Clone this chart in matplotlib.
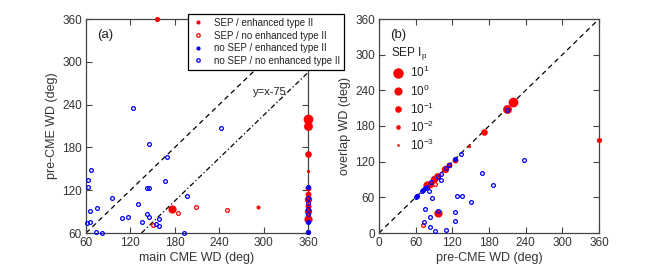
import numpy as np
import matplotlib
matplotlib.use("Agg")
import matplotlib.pyplot as plt
from matplotlib.lines import Line2D

plt.rcParams['font.family'] = ['Liberation Sans', 'DejaVu Sans']
plt.rcParams['mathtext.fontset'] = 'custom'
plt.rcParams['mathtext.rm'] = 'Liberation Sans'
plt.rcParams['mathtext.it'] = 'Liberation Sans:italic'

# ---------------- Panel (a): main CME WD vs pre-CME WD ----------------
a_sep_enh_main = [156, 176, 293, 360, 360, 360, 360, 360, 360, 360, 360, 360, 360, 360]
a_sep_enh_pre  = [360, 94, 97, 220, 210, 171, 147, 123, 114, 108, 98, 91, 80, 61]
a_sep_enh_ip   = [0.02, 1.0, 0.005, 5, 2, 0.1, 0.002, 0.045, 0.045, 0.3, 0.05, 0.3, 1.0, 0.02]

a_sep_noenh_main = [184, 208, 251, 150]
a_sep_noenh_pre  = [88, 97, 92, 71]

a_nosep_enh_main = [360, 360, 360]
a_nosep_enh_pre  = [124.5, 76, 62]

a_nosep_noenh_main = [123, 242, 145, 169, 67, 63, 167, 63, 143, 145, 197, 95.5, 130, 75,
                      66, 143, 145, 109, 117, 158.5, 135, 66, 62, 73.5, 81, 158.5, 154, 193,
                      360, 360, 360, 360]
a_nosep_noenh_pre  = [235, 207, 185, 167, 149, 134, 133, 125, 123, 123, 112, 109, 101, 95,
                      91, 86, 82, 81, 82, 79.6, 76, 76, 74, 61, 60, 70, 72, 60,
                      109, 102, 94, 86]

# ---------------- Panel (b): pre-CME WD vs overlap WD ----------------
b_sep_enh_pre = [360, 96, 61.5, 79, 84, 90, 95, 98, 108, 114, 124, 147, 171, 209, 220]
b_sep_enh_ovl = [156, 33, 61.5, 80, 83, 91, 96, 98, 108, 114, 123, 147, 170, 208.6, 220]
b_sep_enh_ip  = [0.02, 1.0, 0.02, 1.0, 0.3, 0.3, 0.1, 0.005, 0.3, 0.045, 0.045, 0.002, 0.1, 2, 5]

b_sep_noenh_pre = [92, 72]
b_sep_noenh_ovl = [83, 13]

b_nosep_enh_pre = [124.5, 76, 62, 72]
b_nosep_enh_ovl = [124.5, 76, 62, 72]

b_nosep_noenh_pre = [237, 169, 186, 151, 127, 135, 124, 124, 110, 91, 83, 83, 76, 73.5, 97,
                     86, 101, 82, 209, 134, 101, 96, 78, 71, 85, 109, 114, 60.5]
b_nosep_noenh_ovl = [123, 101.5, 81, 51.6, 62, 62, 35, 21, 4.5, 3, 9.5, 27, 40, 19, 37.6,
                     59, 89, 71, 207, 133, 100, 95, 78, 71, 86, 109, 114, 60.5]

legend_ip = [10, 1, 0.1, 0.01, 0.001]
legend_ip_labels = ['$10^{1}$', '$10^{0}$', '$10^{-1}$', '$10^{-2}$', '$10^{-3}$']

RED = '#ff0000'
BLUE = '#0000ff'
GRAY = '#444444'
PX2PT = 72.0 / 100.0


def ip_to_ms(ip):
    d = np.interp(np.log10(np.asarray(ip, dtype=float)), [-3, -2, -1, 0, 1], [2.6, 4.6, 6.6, 8.2, 10.4])
    return d * PX2PT


fig = plt.figure(figsize=(6.64, 2.66), dpi=100)
ax1 = fig.add_axes([86 / 664, 1 - 233 / 266, 222 / 664, 214 / 266])
ax2 = fig.add_axes([379 / 664, 1 - 233 / 266, 220 / 664, 214 / 266])

SMALL = 2.7
MEW = 0.9


def draw(ax, xr, yr, ipr, xro, yro, xbf, ybf, xbo, ybo):
    for x, y, ms in zip(xr, yr, ip_to_ms(ipr)):
        ax.plot([x], [y], 'o', color=RED, ms=ms, mew=0, clip_on=False, zorder=3)
    ax.plot(xro, yro, 'o', mfc='none', mec=RED, ms=SMALL, mew=MEW, ls='none', clip_on=False, zorder=4)
    ax.plot(xbf, ybf, 'o', color=BLUE, ms=SMALL + 1.0, mew=0, ls='none', clip_on=False, zorder=4)
    ax.plot(xbo, ybo, 'o', mfc='none', mec=BLUE, ms=SMALL, mew=MEW, ls='none', clip_on=False, zorder=5)


def style(ax, lo):
    ax.set_xlim(lo, 360)
    ax.set_ylim(lo, 360)
    ticks = np.arange(lo, 361, 60)
    ax.set_xticks(ticks)
    ax.set_yticks(ticks)
    ax.tick_params(direction='in', top=True, right=True, length=4, width=0.8,
                   colors=GRAY, labelsize=8.5, labelcolor='#333333', pad=3)
    for s in ax.spines.values():
        s.set_color(GRAY)
        s.set_linewidth(0.9)


# Panel (a)
style(ax1, 60)
xx = np.array([60, 360])
ax1.plot(xx, xx, color='black', lw=0.9, ls=(0, (4, 3)), zorder=2)
xx2 = np.array([135, 360])
ax1.plot(xx2, xx2 - 75, color='black', lw=0.9, ls=(0, (4, 2, 1, 2)), zorder=2)
ax1.text(285, 258, 'y=x-75', fontsize=8, color='#222222', va='center', ha='left')
ax1.text(75, 337, '(a)', fontsize=9.5, color='#222222', va='center', ha='left')
draw(ax1, a_sep_enh_main, a_sep_enh_pre, a_sep_enh_ip,
     a_sep_noenh_main, a_sep_noenh_pre,
     a_nosep_enh_main, a_nosep_enh_pre,
     a_nosep_noenh_main, a_nosep_noenh_pre)
ax1.set_xlabel('main CME WD (deg)', fontsize=9, color='#333333', labelpad=2)
ax1.set_ylabel('pre-CME WD (deg)', fontsize=9, color='#333333', labelpad=3)

handles = [
    Line2D([], [], marker='o', ls='none', color=RED, ms=3.0, mew=0),
    Line2D([], [], marker='o', ls='none', mfc='none', mec=RED, ms=2.5, mew=0.9),
    Line2D([], [], marker='o', ls='none', color=BLUE, ms=3.0, mew=0),
    Line2D([], [], marker='o', ls='none', mfc='none', mec=BLUE, ms=2.5, mew=0.9),
]
labels = ['SEP / enhanced type II', 'SEP / no enhanced type II',
          'no SEP / enhanced type II', 'no SEP / no enhanced type II']
leg = fig.legend(handles, labels, loc='upper left', bbox_to_anchor=(188 / 664, 1 - 14 / 266),
                 fontsize=7.0, frameon=True, fancybox=False, edgecolor='black',
                 framealpha=1, handlelength=1.2, handletextpad=1.1, labelspacing=0.27,
                 borderpad=0.4, borderaxespad=0)
leg.get_frame().set_linewidth(0.9)
for t in leg.get_texts():
    t.set_color('#222222')

# Panel (b)
style(ax2, 0)
xx = np.array([0, 360])
ax2.plot(xx, xx, color='black', lw=0.9, ls=(0, (4, 3)), zorder=2)
ax2.text(18, 333, '(b)', fontsize=9.5, color='#222222', va='center', ha='left')
draw(ax2, b_sep_enh_pre, b_sep_enh_ovl, b_sep_enh_ip,
     b_sep_noenh_pre, b_sep_noenh_ovl,
     b_nosep_enh_pre, b_nosep_enh_ovl,
     b_nosep_noenh_pre, b_nosep_noenh_ovl)
ax2.set_xlabel('pre-CME WD (deg)', fontsize=9, color='#333333', labelpad=2)
ax2.set_ylabel('overlap WD (deg)', fontsize=9, color='#333333', labelpad=3)

ip_handles = [Line2D([], [], marker='o', ls='none', color=RED, ms=m, mew=0)
              for m in ip_to_ms(legend_ip)]
leg2 = ax2.legend(ip_handles, legend_ip_labels, title='SEP I$_\\mathregular{p}$',
                  loc='upper left', bbox_to_anchor=(0.01, 1 - 17 / 214), frameon=False,
                  fontsize=8.5, title_fontsize=8.5, handlelength=1.3, handletextpad=0.3,
                  labelspacing=0.24, borderpad=0.3, alignment='left')
for t in leg2.get_texts():
    t.set_color('#222222')
leg2.get_title().set_color('#222222')

fig.savefig('out.png', dpi=100)
